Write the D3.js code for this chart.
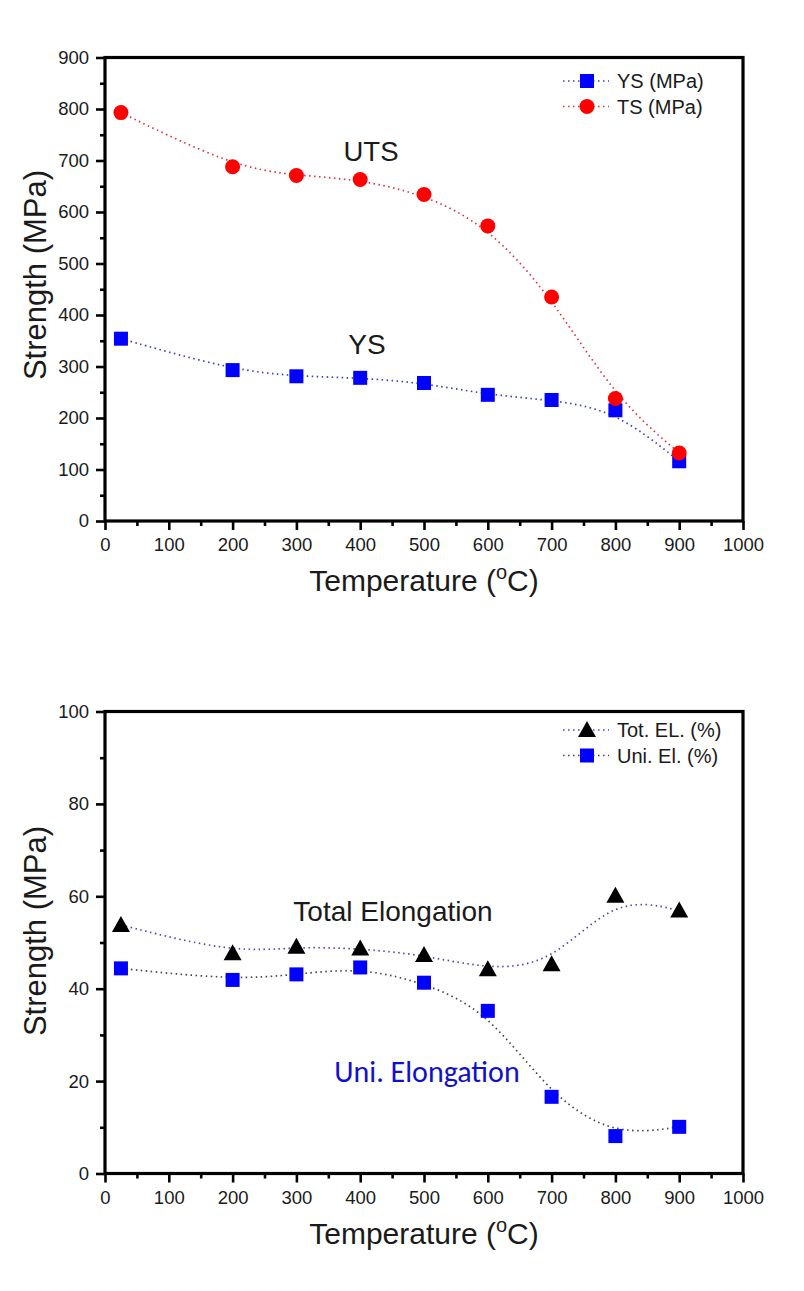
<!DOCTYPE html>
<html><head><meta charset="utf-8">
<script src="https://cdn.jsdelivr.net/npm/d3@7"></script>
<style>body{margin:0;background:#fff}svg{display:block}</style>
</head><body>
<svg id="c" width="804" height="1291" font-family="'Liberation Sans', Arial, sans-serif"></svg>
<script>
const temps = [25, 200, 300, 400, 500, 600, 700, 800, 900];
const tsValues = [793, 688, 671, 663, 634, 573, 435, 238, 132];
const ysValues = [354, 293, 281, 278, 268, 245, 235, 215, 116];
const totElValues = [53.8, 47.7, 49.1, 48.7, 47.3, 44.2, 45.3, 60.1, 56.9];
const uniElValues = [44.4, 41.9, 43.1, 44.6, 41.3, 35.2, 16.6, 8.1, 10.1];
const xTicks = [0,100,200,300,400,500,600,700,800,900,1000];
const yTicksTop = [0,100,200,300,400,500,600,700,800,900];
const yTicksBottom = [0,20,40,60,80,100];

const FONT = "'Liberation Sans', Arial, sans-serif";
const svg = d3.select("#c");
const L = 105, R = 743;

function styleAxis(a){
  a.attr("font-family",null).attr("font-size",null);
  a.select(".domain").remove();
  a.selectAll("line").attr("stroke","#000").attr("stroke-width",2.6);
  a.selectAll("text").attr("font-size",18.5).attr("fill","#1a1a1a").attr("font-family",FONT);
}

function panel(cfg){
  const x = d3.scaleLinear().domain([0,1000]).range([L,R]);
  const y = d3.scaleLinear().domain(cfg.ydom).range([cfg.bottom, cfg.top]);
  const g = svg.append("g");
  const xMinor = d3.range(50,1000,100);
  g.append("g").attr("transform",`translate(0,${cfg.bottom})`)
    .call(d3.axisBottom(x).tickValues(xMinor).tickSize(5).tickFormat("")).call(styleAxis);
  g.append("g").attr("transform",`translate(${L},0)`)
    .call(d3.axisLeft(y).tickValues(cfg.yMinor).tickSize(5).tickFormat("")).call(styleAxis);
  g.append("g").attr("transform",`translate(0,${cfg.bottom})`)
    .call(d3.axisBottom(x).tickValues(xTicks).tickSize(9).tickPadding(8).tickFormat(d3.format("d"))).call(styleAxis);
  g.append("g").attr("transform",`translate(${L},0)`)
    .call(d3.axisLeft(y).tickValues(cfg.yTicks).tickSize(9).tickPadding(7).tickFormat(d3.format("d"))).call(styleAxis);
  g.append("rect").attr("x",L).attr("y",cfg.top).attr("width",R-L).attr("height",cfg.bottom-cfg.top)
    .attr("fill","none").attr("stroke","#000").attr("stroke-width",3.2);
  cfg.series.forEach(s=>{
    const line = d3.line().x((d,i)=>x(temps[i])).y(d=>y(d)).curve(d3.curveBasis);
    g.append("path").attr("d",line(s.values)).attr("fill","none")
      .attr("stroke",s.lineColor).attr("stroke-width",1.7).attr("stroke-dasharray","1.5,3.5");
  });
  cfg.series.forEach(s=>{
    s.values.forEach((v,i)=>marker(g,s.shape,x(temps[i]),y(v),s.color));
  });
  cfg.series.forEach((s,k)=>{
    const ly = cfg.legendY + k*25.5;
    g.append("line").attr("x1",563).attr("x2",609).attr("y1",ly).attr("y2",ly)
      .attr("stroke",s.lineColor).attr("stroke-width",1.7).attr("stroke-dasharray","1.5,3.5");
    marker(g,s.shape,587,ly,s.color);
    g.append("text").attr("x",617).attr("y",ly+7).attr("font-size",20).attr("fill","#1a1a1a").text(s.name);
  });
  const xt = g.append("text").attr("x",(L+R)/2).attr("y",cfg.bottom+70).attr("text-anchor","middle")
    .attr("font-size",30).attr("fill","#1a1a1a");
  xt.append("tspan").text("Temperature (");
  xt.append("tspan").attr("font-size",20).attr("dy",-12).text("o");
  xt.append("tspan").attr("dy",12).text("C)");
  g.append("text").attr("transform",`translate(46,${cfg.yTitleY}) rotate(-90)`).attr("text-anchor","middle")
    .attr("font-size",31).attr("fill","#1a1a1a").text("Strength (MPa)");
  cfg.notes.forEach(n=>{
    g.append("text").attr("x",n.x).attr("y",n.y).attr("text-anchor","middle")
      .attr("font-size",n.size).attr("fill",n.color).attr("font-family",n.font||FONT).text(n.t);
  });
}

function marker(g,shape,cx,cy,color){
  if(shape==="circle") g.append("circle").attr("cx",cx).attr("cy",cy).attr("r",7.5).attr("fill",color);
  else if(shape==="square") g.append("rect").attr("x",cx-7).attr("y",cy-7).attr("width",14).attr("height",14).attr("fill",color);
  else g.append("path").attr("d",`M${cx},${cy-9}L${cx+9},${cy+7}L${cx-9},${cy+7}Z`).attr("fill",color);
}

panel({
  ydom:[0,900], top:57.5, bottom:521, yTicks:yTicksTop, yMinor:d3.range(50,900,100),
  legendY:81, yTitleY:275,
  series:[
    {name:"YS (MPa)", values:ysValues, shape:"square", color:"#0000ff", lineColor:"#3a3ad0"},
    {name:"TS (MPa)", values:tsValues, shape:"circle", color:"#ff0000", lineColor:"#e03040"}
  ],
  notes:[
    {t:"UTS", x:371, y:161, size:27.5, color:"#1a1a1a"},
    {t:"YS", x:367, y:354, size:28, color:"#1a1a1a"}
  ]
});
panel({
  ydom:[0,100], top:711.5, bottom:1173.5, yTicks:yTicksBottom, yMinor:d3.range(10,100,20),
  legendY:730, yTitleY:931,
  series:[
    {name:"Tot. EL. (%)", values:totElValues, shape:"triangle", color:"#000000", lineColor:"#4a4ab0"},
    {name:"Uni. El. (%)", values:uniElValues, shape:"square", color:"#0000ff", lineColor:"#444"}
  ],
  notes:[
    {t:"Total Elongation", x:393, y:921, size:28, color:"#1a1a1a"},
    {t:"Uni. Elongation", x:427, y:1082, size:30, color:"#1010cc", font:"Carlito, Lato, sans-serif"}
  ]
});
</script>
</body></html>
